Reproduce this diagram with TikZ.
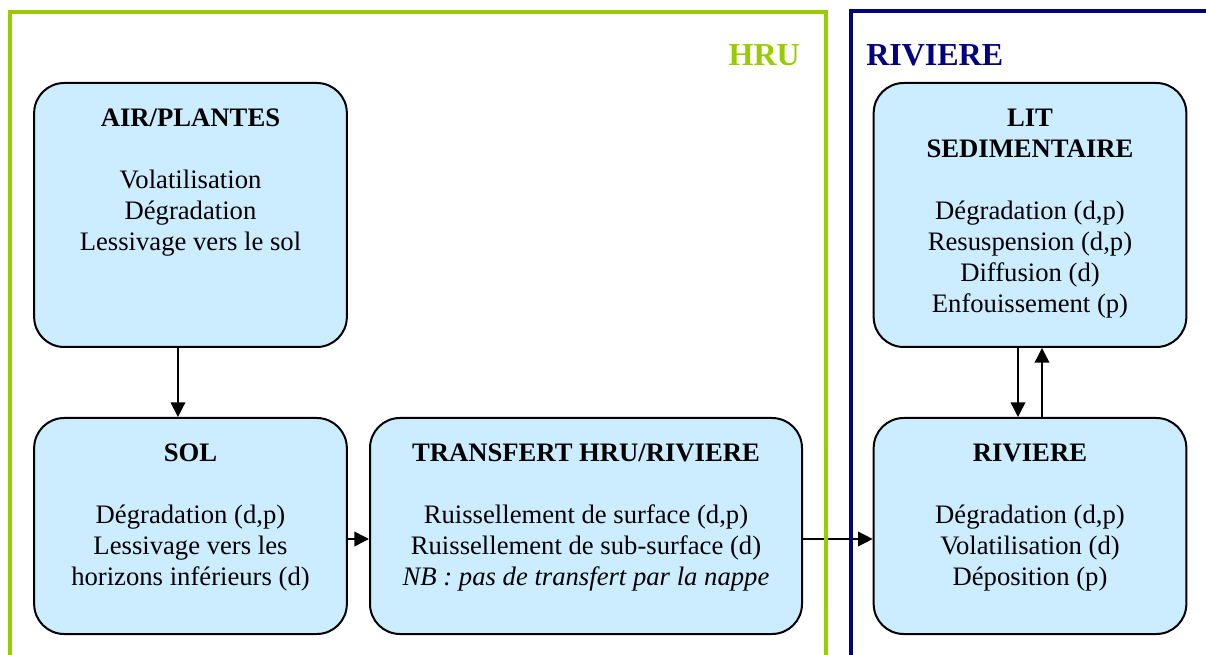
\documentclass[tikz,border=0pt]{standalone}
\usepackage{fontspec}
\setmainfont{Liberation Serif}
\usetikzlibrary{arrows.meta}
\definecolor{boxblue}{RGB}{204,236,255}
\definecolor{hrugreen}{RGB}{153,204,0}
\definecolor{rivnavy}{RGB}{0,0,128}
\newcommand\boxlines[1]{\begin{tabular}[t]{@{}c@{}}#1\end{tabular}}
\begin{document}
\begin{tikzpicture}[x=0.75pt, y=-0.75pt,
  procbox/.style={draw, line width=1.5pt, fill=boxblue, rounded corners=22.5pt, inner sep=0pt},
  tallbox/.style={procbox, minimum width=234.5pt, minimum height=198pt},
  lowbox/.style={procbox, minimum width=234.5pt, minimum height=162pt},
  boxtxt/.style={anchor=base, inner sep=0pt, font=\fontsize{20}{23.25}\selectfont},
  zonelabel/.style={inner sep=0pt, font=\fontsize{24}{28}\selectfont\bfseries},
  arr/.style={-{Triangle[length=11pt,width=11pt]}, line width=1.1pt},
  frame/.style={line width=3pt}]
\useasboundingbox (0,0) rectangle (1206,655);

% boxes
\node[tallbox] (air) at (190.5,215) {};
\node[lowbox] (sol) at (190.5,526) {};
\node[procbox, minimum width=324pt, minimum height=162pt] (tr) at (586,526) {};
\node[tallbox] (lit) at (1030,215) {};
\node[lowbox] (riv) at (1030,526) {};

% texts
\node[boxtxt] (airtxt) at (190.5,127) {\boxlines{\textbf{AIR/PLANTES}\\ \\ Volatilisation\\ Dégradation\\ Lessivage vers le sol}};
\node[boxtxt] (soltxt) at (190.5,462) {\boxlines{\textbf{SOL}\\ \\ Dégradation (d,p)\\ Lessivage vers les\\ horizons inférieurs (d)}};
\node[boxtxt] (trtxt) at (586,462) {\boxlines{\textbf{TRANSFERT HRU/RIVIERE}\\ \\ Ruissellement de surface (d,p)\\ Ruissellement de sub-surface (d)\\ \textit{NB : pas de transfert par la nappe}}};
\node[boxtxt] (littxt) at (1030,127) {\boxlines{\textbf{LIT}\\ \textbf{SEDIMENTAIRE}\\ \\ Dégradation (d,p)\\ Resuspension (d,p)\\ Diffusion (d)\\ Enfouissement (p)}};
\node[boxtxt] (rivtxt) at (1030,462) {\boxlines{\textbf{RIVIERE}\\ \\ Dégradation (d,p)\\ Volatilisation (d)\\ Déposition (p)}};

% connectors
\draw[arr] ([xshift=-9.4pt]air.south) -- ([xshift=-9.4pt]sol.north);
\draw[arr] ([yshift=-9.75pt]sol.east) -- ([yshift=-9.75pt]tr.west);
\draw[arr] ([yshift=-9.75pt]tr.east) -- ([yshift=-9.75pt]riv.west);
\draw[arr] ([xshift=-9pt]lit.south) -- ([xshift=-9pt]riv.north);
\draw[arr] ([xshift=9pt]riv.north) -- ([xshift=9pt]lit.south);

% zone frames
\draw[frame, draw=hrugreen] (10,655) -- (10,12) -- (825.5,12) -- (825.5,655);
\draw[frame, draw=rivnavy] (850.5,655) -- (850.5,11) -- (1206,11);
\node[zonelabel, text=hrugreen, anchor=base east] (hrulabel) at (800,66) {HRU};
\node[zonelabel, text=rivnavy, anchor=base west] (rivlabel) at (866,66) {RIVIERE};
\end{tikzpicture}
\end{document}
